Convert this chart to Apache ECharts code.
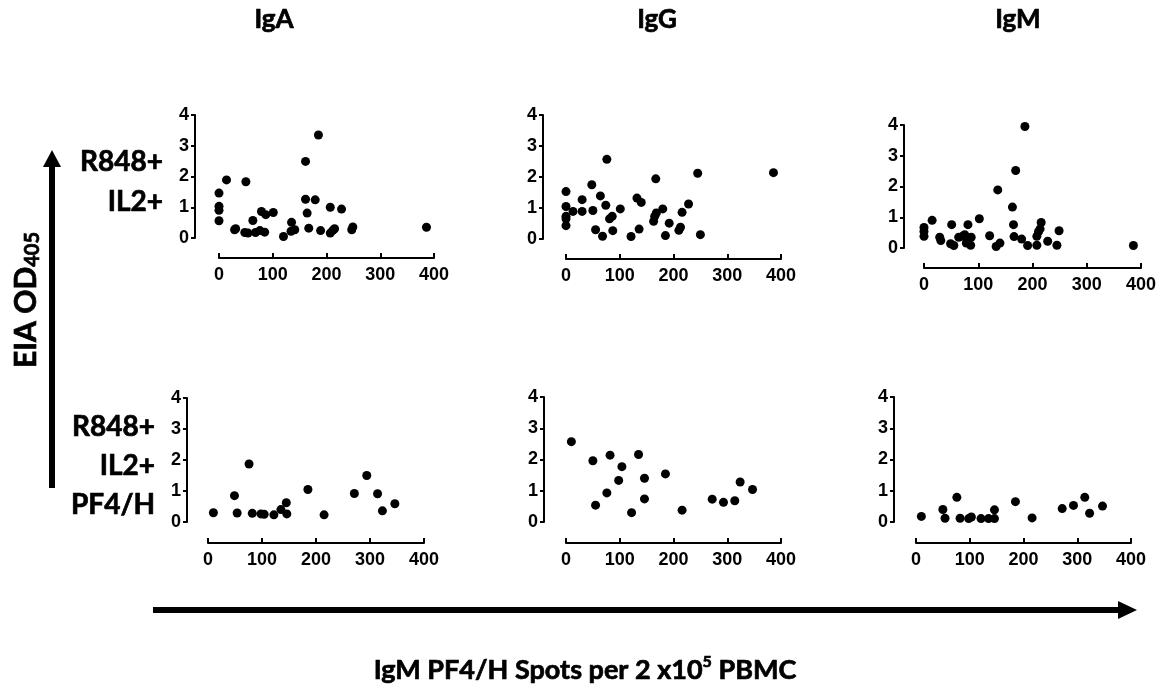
<!DOCTYPE html>
<html>
<head>
<meta charset="utf-8">
<title>EIA OD405 vs IgM PF4/H spots</title>
<script src="https://cdn.jsdelivr.net/npm/echarts@6/dist/echarts.min.js"></script>
<style>
  html, body { margin: 0; padding: 0; background: #fff; }
  #main { width: 1166px; height: 696px; }
</style>
</head>
<body>
<div id="main"></div>
<script>
// axis ticks
var xTicks = [0, 100, 200, 300, 400];
var yTicks = [0, 1, 2, 3, 4];

// column / row labels
var columns = ['IgA', 'IgG', 'IgM'];
var rowTop = ['R848+', 'IL2+'];
var rowBottom = ['R848+', 'IL2+', 'PF4/H'];

// top row: R848+ IL2+  [spots, OD]
var igaTop = [[0,1.46],[0,1.03],[0,0.9],[0,0.56],[14,1.89],[29,0.27],[31,0.3],[50,1.83],[48,0.18],[54,0.16],
  [63,0.57],[68,0.18],[76,0.24],[79,0.86],[85,0.19],[87,0.76],[101,0.83],[120,0.05],[135,0.51],[134,0.22],
  [141,0.27],[161,2.49],[161,1.26],[164,0.81],[167,0.32],[179,1.24],[185,3.35],[189,0.24],[207,1.0],[207,0.16],
  [212,0.25],[215,0.3],[228,0.94],[247,0.27],[249,0.36],[386,0.35]];
var iggTop = [[0,1.53],[0,1.05],[0,0.73],[0,0.65],[0,0.43],[13,0.89],[30,1.27],[30,0.89],[48,1.75],[50,0.92],
  [55,0.3],[64,1.39],[68,0.09],[74,1.09],[76,2.57],[81,0.65],[86,0.73],[87,0.27],[101,0.97],[121,0.08],
  [132,1.32],[136,0.32],[140,1.18],[163,0.57],[165,0.73],[167,1.94],[168,0.84],[180,0.97],[185,0.11],[192,0.51],
  [210,0.28],[213,0.38],[216,0.86],[228,1.13],[245,2.12],[250,0.14],[386,2.14]];
var igmTop = [[0,0.67],[0,0.54],[0,0.38],[15,0.9],[29,0.35],[31,0.24],[49,0.14],[51,0.76],[55,0.08],[64,0.35],
  [71,0.38],[75,0.43],[78,0.16],[81,0.76],[86,0.09],[87,0.35],[102,0.95],[121,0.4],[133,0.05],[136,1.89],
  [140,0.16],[163,1.33],[165,0.76],[166,0.37],[169,2.52],[180,0.29],[186,3.95],[191,0.08],[208,0.09],[208,0.38],
  [211,0.53],[214,0.62],[216,0.83],[228,0.22],[245,0.09],[249,0.56],[386,0.08]];

// bottom row: R848+ IL2+ PF4/H
var igaBottom = [[10,0.3],[49,0.85],[54,0.29],[76,1.87],[82,0.28],[98,0.26],[104,0.25],[122,0.23],[135,0.4],
  [145,0.62],[146,0.26],[185,1.05],[215,0.23],[271,0.92],[294,1.5],[314,0.91],[323,0.36],[346,0.59]];
var iggBottom = [[10,2.57],[50,1.96],[55,0.54],[76,0.93],[82,2.14],[98,1.33],[104,1.77],[122,0.3],[135,2.16],
  [146,1.4],[146,0.74],[185,1.54],[216,0.38],[272,0.73],[293,0.63],[314,0.68],[324,1.28],[347,1.04]];
var igmBottom = [[10,0.18],[50,0.4],[54,0.12],[76,0.79],[82,0.12],[98,0.11],[103,0.16],[121,0.11],[135,0.11],
  [146,0.11],[146,0.39],[185,0.65],[216,0.13],[272,0.43],[293,0.53],[314,0.79],[323,0.28],[347,0.51]];

var panels = [igaTop, iggTop, igmTop, igaBottom, iggBottom, igmBottom];

// plot boxes (data area) and axis offsets
var boxes = [
  {left: 219, top: 115, width: 215, height: 123, yOff: 24, xOff: 20},
  {left: 566, top: 115, width: 215, height: 124, yOff: 23, xOff: 20},
  {left: 924, top: 125, width: 217, height: 123, yOff: 20, xOff: 20},
  {left: 208, top: 398, width: 216, height: 124, yOff: 21, xOff: 21},
  {left: 566, top: 397, width: 215, height: 125, yOff: 22, xOff: 21},
  {left: 916, top: 397, width: 215, height: 125, yOff: 22, xOff: 21}
];

var calibri = 'Lato, "Open Sans", sans-serif';
var arial = '"Liberation Sans", Arial, sans-serif';

var grid = [], xAxis = [], yAxis = [], series = [];
for (var i = 0; i < boxes.length; i++) {
  var b = boxes[i];
  grid.push({left: b.left, top: b.top, width: b.width, height: b.height});
  xAxis.push({
    gridIndex: i, type: 'value',
    min: xTicks[0], max: xTicks[xTicks.length - 1], interval: xTicks[1] - xTicks[0],
    offset: b.xOff,
    axisLine: {show: true, onZero: false, lineStyle: {color: '#000', width: 2}},
    axisTick: {show: true, inside: true, length: 5, lineStyle: {color: '#000', width: 2}},
    axisLabel: {color: '#000', fontFamily: arial, fontWeight: 'bold', fontSize: 18, margin: 8},
    splitLine: {show: false}
  });
  yAxis.push({
    gridIndex: i, type: 'value',
    min: yTicks[0], max: yTicks[yTicks.length - 1], interval: yTicks[1] - yTicks[0],
    offset: b.yOff,
    axisLine: {show: true, onZero: false, lineStyle: {color: '#000', width: 2}},
    axisTick: {show: true, length: 4, lineStyle: {color: '#000', width: 2}},
    axisLabel: {color: '#000', fontFamily: arial, fontWeight: 'bold', fontSize: 18, margin: 6},
    splitLine: {show: false}
  });
  series.push({
    type: 'scatter', xAxisIndex: i, yAxisIndex: i,
    data: panels[i], symbol: 'circle', symbolSize: 9, clip: false,
    itemStyle: {color: '#000', opacity: 1}
  });
}

// decorations: titles, row labels, arrows
// thin stroke makes Lato look closer to the heavy original face
var graphic = [];
var colX = [274, 657, 1018];
columns.forEach(function (c, k) {
  graphic.push({type: 'text', x: colX[k], y: 20,
    style: {text: c, x: 0, y: 0, fill: '#000', stroke: '#000', lineWidth: 0.7, font: 'bold 26px ' + calibri,
      align: 'center', verticalAlign: 'middle', textAlign: 'center', textVerticalAlign: 'middle'}});
});
var topRowY = [162, 202];
rowTop.forEach(function (t, k) {
  graphic.push({type: 'text', x: 163, y: topRowY[k],
    style: {text: t, x: 0, y: 0, fill: '#000', stroke: '#000', lineWidth: 0.7, font: 'bold 28px ' + calibri,
      align: 'right', verticalAlign: 'middle', textAlign: 'right', textVerticalAlign: 'middle'}});
});
var botRowY = [427, 466, 505];
rowBottom.forEach(function (t, k) {
  graphic.push({type: 'text', x: 155, y: botRowY[k],
    style: {text: t, x: 0, y: 0, fill: '#000', stroke: '#000', lineWidth: 0.7, font: 'bold 28px ' + calibri,
      align: 'right', verticalAlign: 'middle', textAlign: 'right', textVerticalAlign: 'middle'}});
});

// vertical arrow
graphic.push({type: 'rect', shape: {x: 49, y: 165, width: 6, height: 323}, style: {fill: '#000'}});
graphic.push({type: 'polygon', shape: {points: [[43, 167], [61, 167], [52, 150]]}, style: {fill: '#000'}});
// horizontal arrow
graphic.push({type: 'rect', shape: {x: 153, y: 607, width: 967, height: 6}, style: {fill: '#000'}});
graphic.push({type: 'polygon', shape: {points: [[1118, 601], [1118, 619], [1137, 610]]}, style: {fill: '#000'}});

// y title, rotated
graphic.push({type: 'text', x: 26, y: 300, rotation: Math.PI / 2,
  style: {text: '{m|EIA OD}{s|405}', x: 0, y: 0, fill: '#000', stroke: '#000', lineWidth: 0.7,
    align: 'center', verticalAlign: 'middle', textAlign: 'center', textVerticalAlign: 'middle',
    rich: {
      m: {fontFamily: calibri, fontWeight: 'bold', fontSize: 30, lineHeight: 34},
      s: {fontFamily: calibri, fontWeight: 'bold', fontSize: 20, lineHeight: 14, verticalAlign: 'bottom'}
    }}});

// x title
graphic.push({type: 'text', x: 585, y: 670,
  style: {text: '{m|IgM PF4/H Spots per 2 x10}{p|5}{m| PBMC}', x: 0, y: 0, fill: '#000', stroke: '#000', lineWidth: 0.7,
    align: 'center', verticalAlign: 'middle', textAlign: 'center', textVerticalAlign: 'middle',
    rich: {
      m: {fontFamily: calibri, fontWeight: 'bold', fontSize: 27, lineHeight: 32},
      p: {fontFamily: calibri, fontWeight: 'bold', fontSize: 16, lineHeight: 14, verticalAlign: 'top'}
    }}});

var chart = echarts.init(document.getElementById('main'));
chart.setOption({
  animation: false,
  backgroundColor: '#fff',
  grid: grid,
  xAxis: xAxis,
  yAxis: yAxis,
  series: series,
  graphic: graphic
});
</script>
</body>
</html>
